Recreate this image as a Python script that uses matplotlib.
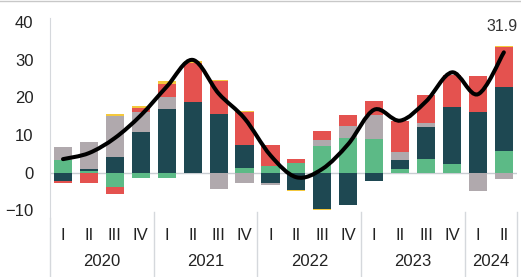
import numpy as np
import matplotlib
matplotlib.use("Agg")
import matplotlib.pyplot as plt
from matplotlib.path import Path
from matplotlib.patches import PathPatch
import matplotlib.transforms as mtransforms

# Quarters 2020 Q1 .. 2024 Q2
quarters = ["I", "II", "III", "IV"] * 4 + ["I", "II"]
years = ["2020", "2021", "2022", "2023", "2024"]
year_quarters = [4, 4, 4, 4, 2]

# Contributions (stacked in this order from zero outward)
green = [3.3, 0.5, -3.9, -1.4, -1.4, -0.2, 0.0, 1.2, 1.9, 2.6, 7.1, 9.2, 9.0, 1.1, 3.7, 2.4, 0.0, 5.8]
teal = [-2.2, 0.5, 4.1, 10.9, 16.8, 18.7, 15.6, 6.2, -2.7, -4.5, -9.6, -8.6, -2.1, 2.2, 8.3, 15.1, 16.2, 16.8]
gray = [3.5, 7.2, 10.9, 5.3, 3.3, 0.0, -4.2, -2.8, -0.5, 0.0, 1.6, 3.2, 6.3, 2.3, 1.1, 0.0, -4.9, -1.7]
red = [-0.4, -2.7, -1.7, 0.9, 3.4, 10.3, 8.6, 8.8, 5.5, 1.1, 2.4, 2.8, 3.6, 8.0, 7.4, 8.4, 9.5, 10.6]
yellow = [-0.15, 0.0, 0.5, 0.7, 0.7, 0.7, 0.4, 0.2, 0.0, -0.4, -0.4, 0.0, 0.0, 0.0, 0.2, 0.0, 0.0, 0.5]

# Total (black line)
total = [3.6, 5.2, 9.2, 15.2, 22.8, 29.9, 21.0, 14.4, 4.6, -1.2, 1.0, 7.6, 16.7, 13.8, 18.9, 26.6, 20.8, 31.9]

series = [green, teal, gray, red, yellow]
colors = ["#5cba86", "#1e4852", "#b0a9ad", "#e4524f", "#f4c83c"]

plt.rcParams["font.family"] = ["Liberation Sans", "DejaVu Sans"]

fig = plt.figure(figsize=(5.21, 2.77), dpi=100)
ax = fig.add_axes([0.096, 0.213, 0.896, 0.722])

x = np.arange(len(quarters))
pos_bottom = np.zeros(len(x))
neg_bottom = np.zeros(len(x))
for vals, col in zip(series, colors):
    v = np.array(vals)
    bottom = np.where(v >= 0, pos_bottom, neg_bottom)
    ax.bar(x, v, 0.7, bottom=bottom, color=col, zorder=2)
    pos_bottom += np.where(v >= 0, v, 0)
    neg_bottom += np.where(v < 0, v, 0)

# zero line
ax.axhline(0, color="#c9cdd2", lw=1, zorder=1)

# smooth line through the totals (Catmull-Rom drawn as bezier path)
pts = np.column_stack([x, total]).astype(float)
n = len(pts)
verts = [tuple(pts[0])]
codes = [Path.MOVETO]
for i in range(n - 1):
    p0 = pts[max(i - 1, 0)]
    p1 = pts[i]
    p2 = pts[i + 1]
    p3 = pts[min(i + 2, n - 1)]
    verts += [tuple(p1 + (p2 - p0) / 6), tuple(p2 - (p3 - p1) / 6), tuple(p2)]
    codes += [Path.CURVE4] * 3
ax.add_patch(PathPatch(Path(verts, codes), facecolor="none", edgecolor="black",
                       lw=2.9, capstyle="round", zorder=3))

ax.annotate("31.9", xy=(x[-1], total[-1]), xytext=(-1, 13), textcoords="offset points",
            ha="center", va="bottom", fontsize=11.5, color="#333333")

ax.set_xlim(-0.5, 17.5)
ax.set_ylim(-12, 41)
ax.set_yticks([-10, 0, 10, 20, 30, 40])
ax.tick_params(axis="y", length=0, pad=12, labelsize=12, labelcolor="#222222")
ax.set_xticks([])

for s in ["top", "right", "bottom"]:
    ax.spines[s].set_visible(False)
ax.spines["left"].set_color("#d5d8dc")

# quarter and year labels below the plot
trans = mtransforms.blended_transform_factory(ax.transData, ax.transAxes)
for xi, q in zip(x, quarters):
    ax.text(xi, -0.09, q, transform=trans, ha="center", va="center",
            fontsize=12, color="#222222")

start = -0.5
for yr, nq in zip(years, year_quarters):
    ax.text(start + nq / 2, -0.22, yr, transform=trans, ha="center", va="center",
            fontsize=12, color="#222222")
    start += nq
    ax.plot([start, start], [0.03, -0.3], transform=trans, color="#d5d8dc",
            lw=1, clip_on=False)
ax.plot([-0.5, -0.5], [0.0, -0.3], transform=trans, color="#d5d8dc", lw=1, clip_on=False)

# thin frame line at the very top
fig.add_artist(plt.Line2D([0, 1], [0.997, 0.997], color="#c8c8c8", lw=1))

fig.savefig("out.png", dpi=100)
